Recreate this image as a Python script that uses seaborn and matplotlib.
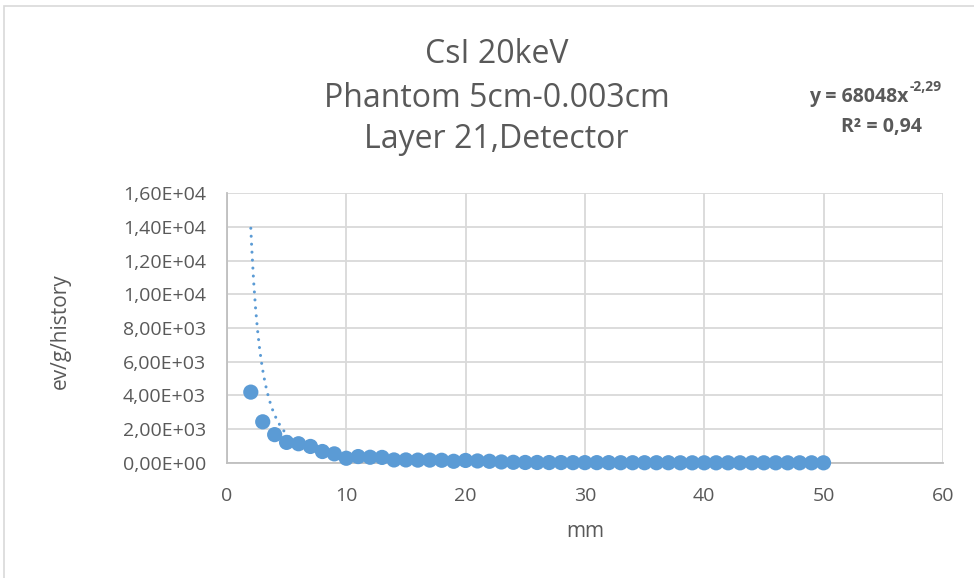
import matplotlib
matplotlib.use("Agg")
import matplotlib.pyplot as plt
from matplotlib.patches import Rectangle
from matplotlib.ticker import FuncFormatter, MultipleLocator
import numpy as np
import pandas as pd
import seaborn as sns

# Deposited energy per history against depth in the detector
depth_mm = list(range(2, 51))
energy = [4200, 2440, 1680, 1220, 1140, 980, 680, 540, 280, 380,
          340, 330, 180, 180, 170, 170, 160, 100, 150, 120,
          100, 60, 40, 30, 30, 25, 25, 20, 20, 20,
          20, 15, 15, 15, 15, 15, 10, 10, 10, 10,
          10, 10, 10, 10, 10, 10, 10, 10, 10]

# Power-law trend line: y = a * x^b
trend_a = 68048
trend_b = -2.29
trend_r2 = 0.94

title_lines = ["CsI 20keV", "Phantom 5cm-0.003cm", "Layer 21,Detector"]
x_label = "mm"
y_label = "ev/g/history"

sns.set_theme(style="white")
plt.rcParams["font.family"] = ["Open Sans", "DejaVu Sans"]

TEXT = "#595959"
BLUE = "#5b9bd5"
GRID = "#d9d9d9"

df = pd.DataFrame({"mm": depth_mm, "dose": energy})
xs = np.linspace(depth_mm[0], depth_mm[-1], 600)
trend = pd.DataFrame({"mm": xs, "dose": trend_a * xs ** trend_b})

fig = plt.figure(figsize=(9.74, 5.78), dpi=100)
fig.patches.append(Rectangle((0.004, -0.01), 1.0, 0.999, transform=fig.transFigure,
                             fill=False, edgecolor="#d9d9d9", linewidth=1.2))
ax = fig.add_axes([0.233, 0.199, 0.735, 0.467])

sns.lineplot(data=trend, x="mm", y="dose", ax=ax, color=BLUE, linewidth=2.2,
             linestyle=(0, (0.01, 2.6)), dash_capstyle="round", zorder=2)
sns.scatterplot(data=df, x="mm", y="dose", ax=ax, color=BLUE, s=120,
                edgecolor="none", zorder=3, clip_on=False)

ax.set_xlim(0, 60)
ax.set_ylim(0, 16000)
ax.xaxis.set_major_locator(MultipleLocator(10))
ax.yaxis.set_major_locator(MultipleLocator(2000))
ax.yaxis.set_major_formatter(FuncFormatter(lambda v, p: f"{v:.2E}".replace(".", ",")))
ax.grid(True, color=GRID, linewidth=1.3)
ax.set_axisbelow(True)
for side in ["top", "right"]:
    ax.spines[side].set_visible(False)
for side in ["left", "bottom"]:
    ax.spines[side].set_color("#bfbfbf")
    ax.spines[side].set_linewidth(1.3)
ax.tick_params(axis="both", length=0, labelsize=14, colors=TEXT)
ax.tick_params(axis="x", pad=17)
ax.tick_params(axis="y", pad=15)

ax.set_xlabel(x_label, fontsize=15, color=TEXT)
ax.set_ylabel(y_label, fontsize=15, color=TEXT)
ax.xaxis.set_label_coords(0.5, -0.215)
ax.yaxis.set_label_coords(-0.218, 0.49)

for text, yb in zip(title_lines, [0.8915, 0.815, 0.744]):
    fig.text(0.510, yb, text, ha="center", va="baseline", fontsize=23, color=TEXT)

eq = fig.text(0.8305, 0.824, f"y = {trend_a}x", ha="left", va="baseline",
              fontsize=14, color=TEXT, fontweight="bold")
ax.annotate(f"{trend_b:.2f}".replace(".", ","), xy=(1.0, 0.62), xycoords=eq,
            xytext=(1, 0), textcoords="offset points", ha="left", va="bottom",
            fontsize=10, color=TEXT, fontweight="bold", annotation_clip=False)
fig.text(0.905, 0.772, f"R² = {trend_r2:.2f}".replace(".", ","), ha="center",
         va="baseline", fontsize=14, color=TEXT, fontweight="bold")

fig.savefig("out.png", dpi=100)
